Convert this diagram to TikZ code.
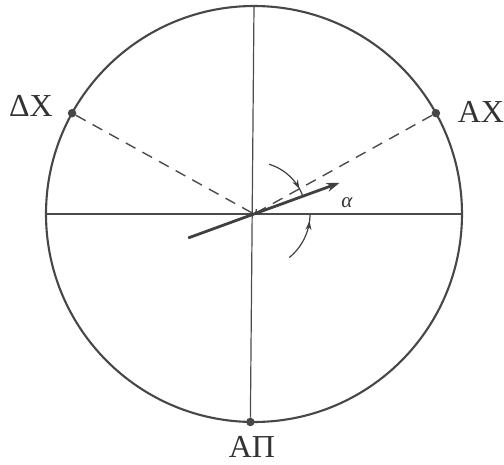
\documentclass[tikz,border=0pt]{standalone}
\usepackage{fontspec}
\setmainfont{Liberation Serif}
\usetikzlibrary{arrows.meta,decorations.markings}

\begin{document}
\begin{tikzpicture}[x=1pt,y=1pt,
  ring/.style={draw=black!72,line width=2.1pt},
  axis/.style={draw=black!70,line width=1.2pt},
  sight/.style={draw=black!70,line width=1.4pt,dash pattern=on 11pt off 8pt},
  vane/.style={draw=black!75,line width=2.8pt,-{Stealth[length=13pt,width=9pt]}},
  point/.style={circle,fill=black!72,inner sep=0pt,minimum size=8.5pt},
  letter/.style={font=\fontsize{32}{36}\selectfont,text=black!80},
  turn/.style={draw=black!75,line width=1.2pt,postaction={decorate},
    decoration={markings,mark=at position #1 with {\arrow{Stealth[length=9pt,width=6pt]}}}}]
\useasboundingbox (-254,-250) rectangle (250,214);
\fill[white] (-254,-250) rectangle (250,214);

% CIRCLE AND AXES
\coordinate (O) at (0,0);
\draw[ring] (O) circle (208);
\coordinate (N) at (90:208);
\coordinate (W) at (180:208);
\coordinate (E) at (0:208);
\node[point] (dx) at (151:208) {};
\node[point] (ax) at (29:208) {};
\node[point] (ap) at (269:208) {};
\draw[axis] (N) -- (ap);
\draw[axis] (W) -- (E);

% SIGHT LINES
\draw[sight] (dx) -- (O);
\draw[sight,-{To[length=5pt,width=7pt]}] (ax) -- (O);

% VANE AND ANGLES
\coordinate (tail) at (200:70);
\coordinate (tip) at (20:91);
\draw[vane] (tail) -- (tip);
\node[font=\fontsize{21}{24}\selectfont\itshape,text=black!80] (alpha) at (93,11) {α};
\draw[turn=0.83] (73:52) arc[start angle=73,end angle=20,radius=52];
\draw[turn=0.86] (-51:56) arc[start angle=-51,end angle=0,radius=56];

% LABELS
\node[letter] (dxlabel) at (-223,108) {ΔΧ};
\node[letter] (axlabel) at (227,102) {ΑΧ};
\node[letter] (aplabel) at (-2,-233) {ΑΠ};
\end{tikzpicture}
\end{document}
